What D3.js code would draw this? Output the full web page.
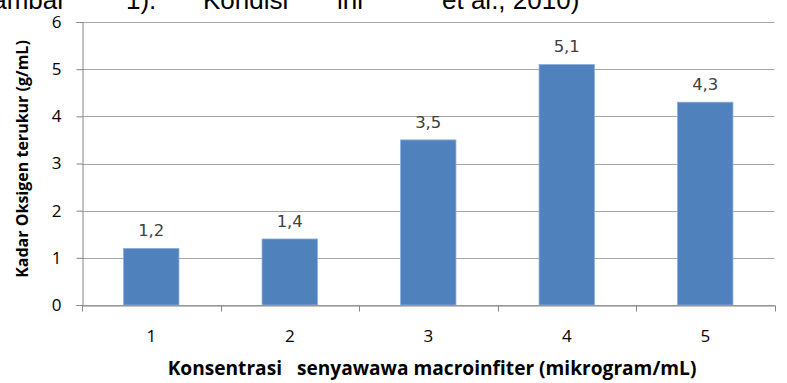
<!DOCTYPE html>
<html>
<head>
<meta charset="utf-8">
<script src="https://cdn.jsdelivr.net/npm/d3@7"></script>
<style>
  html, body { margin: 0; padding: 0; background: #fff; }
  svg { display: block; }
</style>
</head>
<body>
<svg id="chart" width="787" height="383"></svg>
<script>
// Concentration groups and measured oxygen levels
const categories = ["1", "2", "3", "4", "5"];
const values = [1.2, 1.4, 3.5, 5.1, 4.3];
const valueLabels = ["1,2", "1,4", "3,5", "5,1", "4,3"];
const yTicks = [0, 1, 2, 3, 4, 5, 6];

// Fragments of the surrounding paragraph line above the chart
const paragraphBits = [
  { text: "Gambar", x: -28 },
  { text: "1).", x: 126 },
  { text: "Kondisi", x: 203 },
  { text: "ini", x: 337 },
  { text: "et al., 2010)", x: 442 }
];

const svg = d3.select("#chart");

const plotLeft = 82, plotRight = 774.5, plotTop = 22, plotBottom = 305;

const y = d3.scaleLinear().domain([0, 6]).range([plotBottom, plotTop]);
const x = d3.scaleBand().domain(categories).range([plotLeft, plotRight])
  .paddingInner(0.6).paddingOuter(0.3);
const step = x.step();

// paragraph text, clipped by the top edge
svg.append("g").selectAll("text").data(paragraphBits).join("text")
  .attr("x", d => d.x).attr("y", 9)
  .attr("font-family", "Liberation Sans, Arial, sans-serif")
  .attr("font-size", 26)
  .attr("fill", "#000")
  .text(d => d.text);

// horizontal gridlines
svg.append("g").selectAll("line").data(yTicks).join("line")
  .attr("x1", plotLeft).attr("x2", plotRight)
  .attr("y1", d => Math.round(y(d)) + 0.5).attr("y2", d => Math.round(y(d)) + 0.5)
  .attr("stroke", "#a6a6a6").attr("stroke-width", 1);

// y axis
const yAxis = svg.append("g").attr("transform", `translate(${plotLeft + 0.5},0)`)
  .call(d3.axisLeft(y).tickValues(yTicks).tickSize(6).tickPadding(15).tickFormat(d3.format("d")));
yAxis.select(".domain").attr("stroke", "#868686");
yAxis.selectAll(".tick line").attr("stroke", "#868686");
yAxis.selectAll(".tick text")
  .attr("font-family", "'Open Sans', Lato, sans-serif")
  .attr("font-size", 17).attr("fill", "#000");

// bars
svg.append("g").selectAll("rect").data(values).join("rect")
  .attr("x", (d, i) => x(categories[i]))
  .attr("width", x.bandwidth())
  .attr("y", d => y(d))
  .attr("height", d => y(0) - y(d))
  .attr("fill", "#4f81bd")
  .attr("stroke", "#8eaedb").attr("stroke-width", 0.8);

// value labels
svg.append("g").selectAll("text").data(values).join("text")
  .attr("x", (d, i) => x(categories[i]) + x.bandwidth() / 2)
  .attr("y", d => y(d) - 12)
  .attr("text-anchor", "middle")
  .attr("font-family", "DejaVu Sans, Verdana, sans-serif")
  .attr("font-size", 16.5)
  .attr("fill", "#404040")
  .text((d, i) => valueLabels[i]);

// x axis: baseline, boundary ticks, category labels
const xAxis = svg.append("g").attr("transform", `translate(0,${Math.round(y(0)) + 0.5})`)
  .call(d3.axisBottom(x).tickSize(0).tickPadding(24));
xAxis.select(".domain").attr("stroke", "#868686");
xAxis.selectAll(".tick text")
  .attr("font-family", "'Open Sans', Lato, sans-serif")
  .attr("font-size", 17).attr("fill", "#000");
const bounds = d3.range(categories.length + 1).map(i => plotLeft + i * step);
xAxis.append("g").selectAll("line").data(bounds).join("line")
  .attr("x1", d => Math.round(d) + 0.5).attr("x2", d => Math.round(d) + 0.5)
  .attr("y1", 0).attr("y2", 6)
  .attr("stroke", "#868686");

// axis titles, sized to their set lengths
function fitText(sel, length) {
  const w = sel.node().getComputedTextLength();
  const fs = parseFloat(sel.attr("font-size"));
  sel.attr("font-size", fs * length / w);
}

const xTitle = svg.append("text")
  .attr("x", 432).attr("y", 375)
  .attr("text-anchor", "middle")
  .attr("font-family", "'Open Sans', Lato, sans-serif")
  .attr("font-weight", "bold").attr("font-size", 16)
  .attr("fill", "#000")
  .style("white-space", "pre")
  .text("Konsentrasi   senyawawa macroinfiter (mikrogram/mL)");
fitText(xTitle, 529);

const yTitle = svg.append("text")
  .attr("transform", "translate(28,159) rotate(-90)")
  .attr("text-anchor", "middle")
  .attr("font-family", "'Open Sans', Lato, sans-serif")
  .attr("font-weight", "bold").attr("font-size", 15)
  .attr("fill", "#000")
  .text("Kadar Oksigen terukur (g/mL)");
fitText(yTitle, 238);
</script>
</body>
</html>
